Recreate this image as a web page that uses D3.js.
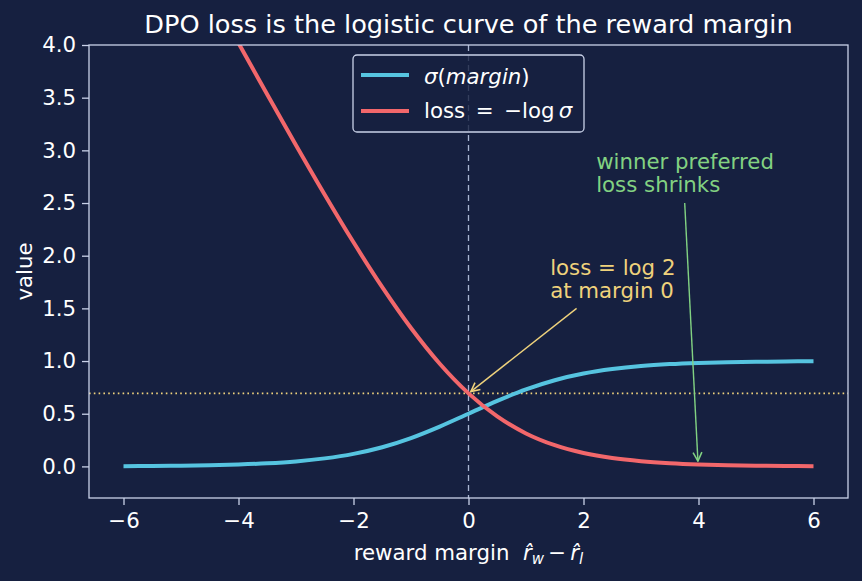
<!DOCTYPE html>
<html>
<head>
<meta charset="utf-8">
<script src="https://cdn.jsdelivr.net/npm/d3@7"></script>
<style>
  body { margin: 0; background: #162040; }
  text { font-family: "DejaVu Sans", sans-serif; }
</style>
</head>
<body>
<div id="chart"></div>
<script>

// DATA

const margins = [-6, -5.5, -5, -4.5, -4, -3.5, -3, -2.5, -2, -1.5, -1, -0.5, 0,
                 0.5, 1, 1.5, 2, 2.5, 3, 3.5, 4, 4.5, 5, 5.5, 6];

const sigmaValues = [0.0025, 0.004, 0.0067, 0.011, 0.018, 0.029, 0.047, 0.076, 0.119, 0.182,
                     0.269, 0.378, 0.5, 0.622, 0.731, 0.818, 0.881, 0.924, 0.953, 0.971,
                     0.982, 0.989, 0.993, 0.996, 0.998];

const lossValues = [6.0025, 5.504, 5.0067, 4.511, 4.018, 3.53, 3.049, 2.579, 2.127, 1.701,
                    1.313, 0.974, 0.693, 0.474, 0.313, 0.201, 0.127, 0.079, 0.049, 0.030,
                    0.018, 0.011, 0.0067, 0.004, 0.0025];

const xTicks = [-6, -4, -2, 0, 2, 4, 6];
const yTicks = [0, 0.5, 1, 1.5, 2, 2.5, 3, 3.5, 4];

const log2 = 0.693;

// SVG CANVAS

const width = 862;
const height = 581;
const margin = {top: 45, left: 89, right: 14, bottom: 83};

const bg = "#162040";
const axisColor = "#c9d1e8";
const cyan = "#56c4e0";
const red = "#f2676b";
const yellow = "#efd27c";
const green = "#82d282";
const fs = 21.3;

const svg = d3.select("#chart")
    .append("svg")
    .attr("width", width)
    .attr("height", height);

svg.append("rect")
    .attr("width", width)
    .attr("height", height)
    .attr("fill", bg);

// SCALES

const xScale = d3.scaleLinear()
    .domain([-6.6, 6.6])
    .range([margin.left, width - margin.right]);

const yScale = d3.scaleLinear()
    .domain([-0.3, 4.0])
    .range([height - margin.bottom, margin.top]);

svg.append("clipPath")
    .attr("id", "plot-clip")
    .append("rect")
    .attr("x", margin.left)
    .attr("y", margin.top)
    .attr("width", width - margin.left - margin.right)
    .attr("height", height - margin.top - margin.bottom);

const plot = svg.append("g").attr("clip-path", "url(#plot-clip)");

// REFERENCE LINES

plot.append("line")
    .attr("x1", xScale(0)).attr("x2", xScale(0))
    .attr("y1", margin.top).attr("y2", height - margin.bottom)
    .attr("stroke", "#a9b5d2")
    .attr("stroke-width", 1.3)
    .attr("stroke-dasharray", "6,4");

plot.append("line")
    .attr("x1", margin.left).attr("x2", width - margin.right)
    .attr("y1", yScale(log2)).attr("y2", yScale(log2))
    .attr("stroke", yellow)
    .attr("stroke-width", 1.6)
    .attr("stroke-dasharray", "1.6,3.2");

// CURVES

const line = d3.line()
    .x(function(d, i) { return xScale(margins[i]); })
    .y(function(d) { return yScale(d); })
    .curve(d3.curveMonotoneX);

plot.append("path")
    .datum(sigmaValues)
    .attr("d", line)
    .attr("fill", "none")
    .attr("stroke", cyan)
    .attr("stroke-width", 4);

plot.append("path")
    .datum(lossValues)
    .attr("d", line)
    .attr("fill", "none")
    .attr("stroke", red)
    .attr("stroke-width", 4);

// AXES

const xAxis = svg.append("g")
    .attr("transform", `translate(0,${height - margin.bottom})`)
    .call(d3.axisBottom(xScale).tickValues(xTicks).tickSize(7).tickPadding(8)
        .tickFormat(function(d) { return d < 0 ? "\u2212" + Math.abs(d) : d; }));

const yAxis = svg.append("g")
    .attr("transform", `translate(${margin.left},0)`)
    .call(d3.axisLeft(yScale).tickValues(yTicks).tickSize(7).tickPadding(6)
        .tickFormat(d3.format(".1f")));

[xAxis, yAxis].forEach(function(a) {
    a.select(".domain").remove();
    a.selectAll("line").attr("stroke", axisColor).attr("stroke-width", 1.3);
    a.selectAll("text").attr("fill", "#ffffff").attr("font-size", fs)
        .attr("font-family", "DejaVu Sans");
});

svg.append("rect")
    .attr("x", margin.left)
    .attr("y", margin.top)
    .attr("width", width - margin.left - margin.right)
    .attr("height", height - margin.top - margin.bottom)
    .attr("fill", "none")
    .attr("stroke", axisColor)
    .attr("stroke-width", 1.3);

// TITLE AND AXIS LABELS

svg.append("text")
    .attr("x", (margin.left + width - margin.right) / 2)
    .attr("y", 33)
    .attr("text-anchor", "middle")
    .attr("fill", "#ffffff")
    .attr("font-size", 25.6)
    .text("DPO loss is the logistic curve of the reward margin");

const xLabel = svg.append("text")
    .attr("x", (margin.left + width - margin.right) / 2)
    .attr("y", 560)
    .attr("text-anchor", "middle")
    .attr("fill", "#ffffff")
    .attr("font-size", fs);
xLabel.append("tspan").text("reward margin\u00a0\u00a0");
xLabel.append("tspan").attr("font-style", "italic").text("r\u0302");
xLabel.append("tspan").attr("font-style", "italic").attr("font-size", 15).attr("dy", 4).text("w");
xLabel.append("tspan").attr("dy", -4).text("\u2009\u2212\u2009");
xLabel.append("tspan").attr("font-style", "italic").text("r\u0302");
xLabel.append("tspan").attr("font-style", "italic").attr("font-size", 15).attr("dy", 4).text("l");

svg.append("text")
    .attr("transform", "rotate(-90)")
    .attr("x", -(margin.top + height - margin.bottom) / 2)
    .attr("y", 32)
    .attr("text-anchor", "middle")
    .attr("fill", "#ffffff")
    .attr("font-size", fs)
    .text("value");

// LEGEND

const legend = svg.append("g").attr("transform", "translate(353,55)");

legend.append("rect")
    .attr("width", 231)
    .attr("height", 77)
    .attr("rx", 4)
    .attr("fill", bg)
    .attr("fill-opacity", 0.8)
    .attr("stroke", axisColor)
    .attr("stroke-width", 1.3);

const legendItems = [
    {color: cyan, y: 20},
    {color: red, y: 56}
];

legend.selectAll(".legend-line")
    .data(legendItems)
    .enter()
    .append("line")
    .attr("x1", 8).attr("x2", 56)
    .attr("y1", function(d) { return d.y; })
    .attr("y2", function(d) { return d.y; })
    .attr("stroke", function(d) { return d.color; })
    .attr("stroke-width", 4);

const l1 = legend.append("text").attr("x", 71).attr("y", 29)
    .attr("fill", "#ffffff").attr("font-size", fs);
l1.append("tspan").attr("font-style", "italic").text("\u03c3");
l1.append("tspan").text("(");
l1.append("tspan").attr("font-style", "italic").text("margin");
l1.append("tspan").text(")");

const l2 = legend.append("text").attr("x", 71).attr("y", 63)
    .attr("fill", "#ffffff").attr("font-size", fs);
l2.append("tspan").text("loss\u2002=\u2002\u2212log\u2009");
l2.append("tspan").attr("font-style", "italic").text("\u03c3");

// ANNOTATIONS

const defs = svg.append("defs");
[["arrow-yellow", yellow], ["arrow-green", green]].forEach(function(a) {
    defs.append("marker")
        .attr("id", a[0])
        .attr("viewBox", "0 0 10 10")
        .attr("refX", 9).attr("refY", 5)
        .attr("markerWidth", 11).attr("markerHeight", 11)
        .attr("markerUnits", "userSpaceOnUse")
        .attr("orient", "auto")
        .append("path")
        .attr("d", "M1,1 L9,5 L1,9")
        .attr("fill", "none")
        .attr("stroke", a[1])
        .attr("stroke-width", 1.4);
});

const annotations = [
    {lines: ["loss = log 2", "at margin 0"], tx: 1.42, ty: 1.82, from: [1.88, 1.5], to: [0.04, 0.71], color: yellow, marker: "arrow-yellow"},
    {lines: ["winner preferred", "loss shrinks"], tx: 2.22, ty: 2.82, from: [3.76, 2.5], to: [3.99, 0.05], color: green, marker: "arrow-green"}
];

annotations.forEach(function(a) {
    const t = svg.append("text")
        .attr("x", xScale(a.tx))
        .attr("y", yScale(a.ty))
        .attr("fill", a.color)
        .attr("font-size", fs);
    a.lines.forEach(function(s, i) {
        t.append("tspan")
            .attr("x", xScale(a.tx))
            .attr("dy", i === 0 ? 0 : 23)
            .text(s);
    });
    svg.append("line")
        .attr("x1", xScale(a.from[0])).attr("y1", yScale(a.from[1]))
        .attr("x2", xScale(a.to[0])).attr("y2", yScale(a.to[1]))
        .attr("stroke", a.color)
        .attr("stroke-width", 1.4)
        .attr("marker-end", `url(#${a.marker})`);
});

</script>
</body>
</html>
